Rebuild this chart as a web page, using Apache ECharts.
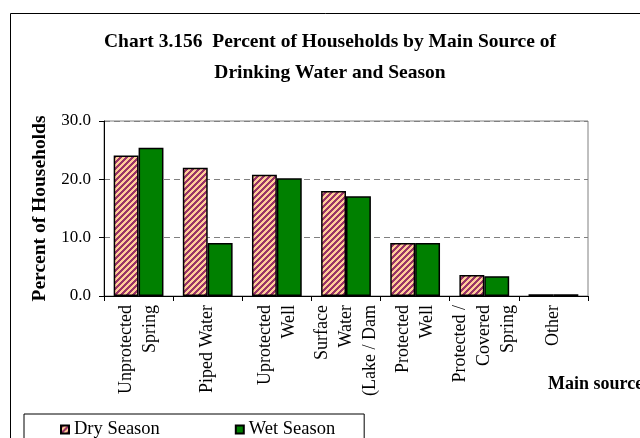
<!DOCTYPE html>
<html>
<head>
<meta charset="utf-8">
<script src="https://cdn.jsdelivr.net/npm/echarts@6/dist/echarts.min.js"></script>
<style>html,body{margin:0;padding:0;background:#fff}#c{width:640px;height:438px}</style>
</head>
<body>
<div id="c"></div>
<script>
var categories = ['Unprotected\nSpring', 'Piped Water', 'Uprotected\nWell', 'Surface\nWater\n(Lake / Dam', 'Protected\nWell', 'Protected /\nCovered\nSpring', 'Other'];
var drySeason = [24.1, 22.0, 20.8, 18.0, 9.1, 3.6, 0.3];
var wetSeason = [25.4, 9.1, 20.2, 17.1, 9.1, 3.4, 0.3];
var yTicks = [0, 10, 20, 30];

// striped fill pattern for the dry season bars
var P = 6;
var pat = document.createElement('canvas');
pat.width = P; pat.height = P;
var pc = pat.getContext('2d');
for (var px = 0; px < P; px++) {
  for (var py = 0; py < P; py++) {
    pc.fillStyle = ((px + py) % P < P / 2) ? '#993366' : '#ffcc99';
    pc.fillRect(px, py, 1, 1);
  }
}

var serif = "'Liberation Serif', 'Times New Roman', serif";
var chart = echarts.init(document.getElementById('c'), null, {renderer: 'canvas'});
chart.setOption({
  animation: false,
  backgroundColor: '#fff',
  title: {
    text: 'Chart 3.156  Percent of Households by Main Source of\nDrinking Water and Season',
    left: 330,
    top: 26,
    padding: 0,
    textAlign: 'center',
    textStyle: {fontFamily: serif, fontWeight: 'bold', fontSize: 19.5, lineHeight: 31, color: '#000'}
  },
  graphic: [
    {type: 'rect', shape: {x: 10.5, y: 13.5, width: 700, height: 500}, style: {fill: 'none', stroke: '#000', lineWidth: 1}, z: 100},
    {type: 'text', x: 548, y: 384, style: {text: 'Main source', font: "bold 18px 'Liberation Serif', serif", fill: '#000', textVerticalAlign: 'middle'}}
  ],
  legend: {
    left: 24,
    top: 414,
    orient: 'horizontal',
    padding: [6, 29, 12, 36],
    itemGap: 75,
    itemWidth: 8,
    itemHeight: 8,
    borderColor: '#000',
    borderWidth: 1,
    icon: 'rect',
    textStyle: {fontFamily: serif, fontSize: 18.5, color: '#000'},
    data: ['Dry Season', 'Wet Season']
  },
  grid: {left: 104, right: 52, top: 121, bottom: 142, show: true, borderColor: '#808080', borderWidth: 1},
  xAxis: {
    type: 'category',
    data: categories,
    axisLine: {lineStyle: {color: '#000', width: 1}},
    axisTick: {show: true, length: 5, lineStyle: {color: '#000'}},
    axisLabel: {rotate: 90, interval: 0, margin: 9, fontFamily: serif, fontSize: 18, lineHeight: 24, color: '#000'}
  },
  yAxis: {
    type: 'value',
    min: yTicks[0],
    max: yTicks[yTicks.length - 1],
    interval: 10,
    name: 'Percent of Households',
    nameLocation: 'middle',
    nameGap: 52,
    nameTextStyle: {fontFamily: serif, fontWeight: 'bold', fontSize: 19.5, color: '#000'},
    axisLine: {show: true, lineStyle: {color: '#000', width: 1}},
    axisTick: {show: true, length: 5, lineStyle: {color: '#000'}},
    axisLabel: {formatter: function (v) { return v.toFixed(1); }, fontFamily: serif, fontSize: 17, color: '#000', margin: 13},
    splitLine: {show: true, lineStyle: {color: '#808080', type: [6, 4], width: 1}}
  },
  series: [
    {
      name: 'Dry Season', type: 'bar', data: drySeason,
      barGap: '0%', barCategoryGap: '28%',
      itemStyle: {color: {image: pat, repeat: 'repeat'}, borderColor: '#000', borderWidth: 1.5}
    },
    {
      name: 'Wet Season', type: 'bar', data: wetSeason,
      itemStyle: {color: '#008000', borderColor: '#000', borderWidth: 1.5}
    }
  ]
});
</script>
</body>
</html>
